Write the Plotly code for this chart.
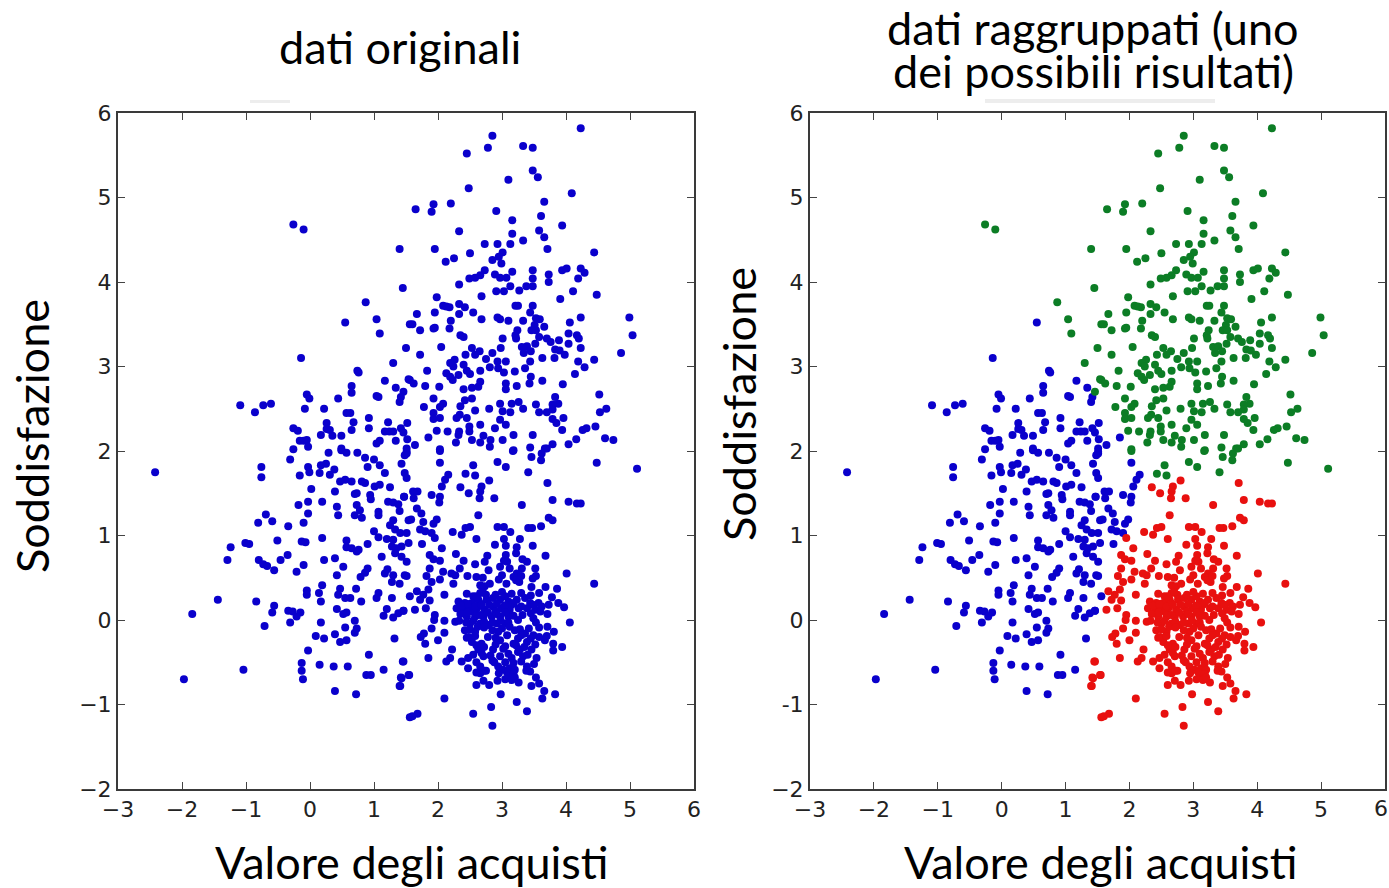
import plotly.graph_objects as go

W, H = 1389, 888

pts_upper_left = [(-0.26,4.68),(-0.10,4.62),(1.40,4.39),(1.45,3.93),(0.87,3.76),(0.55,3.52),(1.04,3.56),(1.09,3.39),(1.56,3.50),(1.50,3.22),
(-0.14,3.10),(1.30,3.04),(0.74,2.95),(0.76,2.93),(1.17,2.83),(1.54,2.85),(0.65,2.77),(0.65,2.69),(1.34,2.75),(1.46,2.70),(1.42,2.64),(1.40,2.58),
(-0.05,2.67),(-0.01,2.62),(0.44,2.62),(1.04,2.65),(1.07,2.64),(-1.09,2.54),(-0.86,2.46),(-0.73,2.54),(-0.61,2.56),(-0.08,2.50),(0.22,2.50),
(0.57,2.45),(0.63,2.45),(0.92,2.39),(1.22,2.34),(1.52,2.33),(0.26,2.33),(0.68,2.34),(-0.26,2.27),(-0.19,2.24),(0.26,2.26),(0.31,2.25),(0.17,2.19),
(0.35,2.18),(0.49,2.18),(0.65,2.25),(0.92,2.27),(1.17,2.23),(1.30,2.23),(1.24,2.23),(1.42,2.27),(1.46,2.22),(1.52,2.14),(1.34,2.12),(1.04,2.09),(1.09,2.12),
(-0.16,2.12),(-0.05,2.13),(-0.10,2.12),(-0.03,2.05),(-0.26,2.02),(0.49,2.03)]

pts_upper_right = [(4.23,5.82),(2.85,5.73),(2.78,5.59),(2.45,5.52),(3.33,5.61),(3.48,5.59),(3.48,5.32),(3.56,5.24),(3.10,5.21),(2.48,5.11),(4.09,5.05),(3.66,4.95),
(2.20,4.93),(1.93,4.92),(1.90,4.83),(1.65,4.86),(2.91,4.84),(3.61,4.78),(3.16,4.73),(3.94,4.67),(2.33,4.60),(3.58,4.61),(3.66,4.53),(3.16,4.57),(3.33,4.49),
(2.73,4.45),(2.93,4.45),(3.13,4.45),(3.71,4.39),(1.95,4.39),(4.44,4.35),(2.50,4.34),(3.01,4.35),(2.95,4.30),(2.99,4.22),(2.85,4.26),(2.12,4.24),(2.25,4.28),
(2.73,4.14),(2.66,4.08),(2.58,4.05),(2.49,4.04),(2.89,4.09),(2.97,4.05),(3.07,4.05),(3.16,4.12),(3.48,4.14),(3.48,4.04),(3.48,3.95),(3.38,3.95),(3.73,4.09),(3.73,4.00),
(3.94,4.14),(4.01,4.16),(4.23,4.16),(4.29,4.11),(4.19,4.04),(3.13,3.95),(3.27,3.90),(2.33,3.97),(2.91,3.89),(3.03,3.89),(4.11,3.89),(4.48,3.85),(2.68,3.83),(3.91,3.80),
(1.98,3.82),(2.08,3.72),(2.18,3.70),(2.13,3.71),(2.33,3.74),(2.42,3.70),(3.21,3.72),(3.25,3.72),(3.48,3.72),(3.44,3.64),(2.55,3.64),(1.95,3.64),(1.67,3.62),(2.33,3.62),
(2.68,3.56),(2.93,3.58),(2.97,3.56),(3.10,3.54),(3.33,3.54),(3.53,3.57),(3.59,3.56),(3.51,3.49),(3.46,3.43),(3.53,3.43),(3.66,3.47),(4.23,3.58),(4.06,3.52),(4.99,3.58),
(5.04,3.37),(2.20,3.54),(2.18,3.45),(1.60,3.50),(1.72,3.43),(1.93,3.45),(1.95,3.46),(3.24,3.43),(3.21,3.37),(3.22,3.33),(2.35,3.37),(2.40,3.35),(3.01,3.33),(4.04,3.39),
(4.17,3.37),(4.20,3.33),(3.58,3.35),(3.70,3.33),(3.76,3.29),(3.89,3.31),(4.04,3.27),(3.52,3.27),(3.31,3.23),(3.39,3.24),(3.34,3.16),(3.45,3.18),(3.83,3.20),(3.82,3.10),
(3.90,3.19),(3.98,3.14),(4.23,3.22),(4.86,3.16),(2.05,3.23),(1.72,3.14),(2.53,3.22),(2.65,3.18),(2.58,3.14),(2.43,3.14),(2.98,3.22),(2.85,3.16),(2.75,3.09),(3.63,3.10),
(4.44,3.08),(2.93,3.06),(3.06,3.06),(2.81,2.99),(2.94,2.98),(3.03,2.93),(3.44,3.06),(3.36,2.98),(4.19,3.06),(4.29,2.99),(2.26,3.08),(2.19,3.04),(2.24,3.00),(2.40,3.02),
(2.45,2.95),(2.50,2.91),(2.66,2.95),(3.20,2.94),(1.83,2.95),(4.14,2.91),(2.13,2.92),(2.19,2.88),(2.32,2.90),(2.23,2.84),(3.45,2.88),(3.43,2.80),(3.63,2.83),(2.66,2.82),
(2.63,2.76),(3.06,2.80),(3.06,2.73),(3.23,2.77),(3.95,2.79),(1.56,2.84),(1.62,2.80),(1.80,2.77),(2.02,2.76),(2.40,2.73),(2.53,2.75),(4.52,2.67),(1.93,2.62),(2.42,2.60),
(2.53,2.62),(3.83,2.64),(3.88,2.56),(3.79,2.55),(3.15,2.56),(3.26,2.58),(2.97,2.56),(2.08,2.56),(2.03,2.52),(1.78,2.52),(2.35,2.53),(3.53,2.55),(2.58,2.48),(2.80,2.50),
(3.01,2.47),(3.13,2.46),(3.33,2.50),(4.63,2.50),(4.53,2.46),(3.58,2.46),(3.70,2.46),(3.79,2.49),(1.93,2.45),(1.93,2.38),(2.03,2.39),(2.34,2.43),(2.29,2.39),(2.45,2.39),
(2.97,2.37),(3.06,2.31),(2.89,2.27),(2.66,2.31),(2.49,2.29),(2.49,2.23),(3.79,2.38),(3.85,2.33),(3.96,2.39),(3.94,2.25),(4.46,2.29),(4.32,2.27),(4.26,2.25),(1.98,2.24),
(2.15,2.23),(2.33,2.23),(2.32,2.19),(3.18,2.19),(3.48,2.19),(1.85,2.16),(2.53,2.13),(2.71,2.18),(2.66,2.10),(2.82,2.13),(2.81,2.05),(3.01,2.13),(2.28,2.10),(4.61,2.15),
(4.74,2.13),(4.16,2.14),(4.04,2.08),(3.79,2.08),(3.67,2.03),(3.44,2.04),(3.18,2.01),(2.03,2.02),(1.64,2.07),(1.51,2.03)]

pts_lower_left = [(-2.42,1.75),(-0.76,1.81),(-0.76,1.69),(-0.31,1.90),(0.29,1.98),(0.49,2.01),(0.57,1.98),(0.74,1.98),(0.86,1.92),(1.00,1.90),(1.09,1.83),(0.90,1.81),
(1.17,1.74),(-0.03,1.81),(-0.01,1.75),(-0.16,1.71),(0.15,1.74),(0.17,1.83),(0.25,1.85),(0.38,1.78),(0.31,1.72),(1.43,1.85),(1.48,1.74),(1.51,1.68),(1.51,1.97),(0.47,1.64),
(0.55,1.66),(0.65,1.64),(0.81,1.64),(0.86,1.62),(1.01,1.58),(1.09,1.60),(1.25,1.57),(0.02,1.55),(0.39,1.52),(0.70,1.49),(0.73,1.50),(0.94,1.48),(0.95,1.43),(1.47,1.46),
(1.22,1.40),(1.30,1.39),(1.38,1.37),(-0.03,1.40),(-0.18,1.36),(0.19,1.40),(0.42,1.34),(0.73,1.36),(0.78,1.30),(0.70,1.24),(0.81,1.21),(1.07,1.28),(1.07,1.24),(1.40,1.29),
(-0.03,1.26),(0.44,1.24),(-0.69,1.25),(-0.81,1.15),(-0.59,1.17),(-0.34,1.11),(-0.10,1.15),(1.30,1.18),(1.25,1.12),(1.54,1.18),(1.00,1.05),(1.07,0.98),(1.33,1.07),(1.41,1.03),
(1.51,1.03),(-0.51,0.94),(0.19,0.97),(-1.01,0.91),(-0.95,0.90),(-1.24,0.86),(-0.13,0.93),(-0.07,0.92),(0.57,0.94),(0.90,0.90),(1.20,0.96),(1.30,0.95),(1.28,0.87),(1.35,0.85),
(1.43,0.87),(1.54,0.91),(0.57,0.86),(0.65,0.85),(0.73,0.81),(0.76,0.83),(1.33,0.79),(1.43,0.75),(1.51,0.69),(-1.29,0.71),(-0.35,0.77),(-0.46,0.71),(-0.80,0.71),(-0.73,0.66),
(-0.67,0.64),(-0.56,0.59),(0.22,0.71),(0.39,0.73),(0.52,0.63),(1.12,0.75),(-0.10,0.65),(-0.21,0.57),(0.90,0.61),(0.86,0.56),(0.79,0.51),(0.42,0.53),(1.21,0.60),(1.17,0.55),
(1.30,0.53),(1.28,0.45),(1.40,0.43),(1.48,0.53),(0.19,0.41),(0.72,0.37),(0.47,0.37),(0.44,0.30),(0.55,0.26),(0.63,0.26),(-0.05,0.35),(-0.05,0.30),(0.14,0.32),(0.17,0.22),
(1.07,0.32),(1.04,0.26),(1.28,0.26),(0.80,0.22),(-1.44,0.24),(-0.84,0.22),(-0.56,0.17),(-0.59,0.09),(-0.34,0.11),(-0.27,0.10),(-0.15,0.09),(-0.21,0.04),(-0.31,-0.03),(0.42,0.13),
(0.57,0.09),(0.52,0.07),(1.20,0.13),(1.15,0.05),(1.46,0.11),(1.30,0.03),(1.38,0.08),(-1.84,0.07),(-0.71,-0.07),(0.17,-0.03),(0.70,-0.01),(0.73,-0.10),(0.70,-0.15),(0.55,-0.09),
(0.09,-0.19),(0.22,-0.22),(0.39,-0.17),(0.47,-0.26),(0.57,-0.24),(1.32,-0.22),(-0.03,-0.36),(0.92,-0.41),(-0.13,-0.51),(-0.13,-0.60),(-0.11,-0.70),(0.15,-0.53),(0.37,-0.55),
(0.59,-0.55),(1.45,-0.49),(1.15,-0.59),(0.88,-0.65),(0.95,-0.65),(1.54,-0.65),(1.42,-0.68),(1.40,-0.78),(-1.04,-0.59),(-1.97,-0.70),(0.39,-0.84),(0.72,-0.88),(1.56,-1.15)]

pts_lower_right = [(1.51,1.99),(1.48,1.95),(2.03,2.00),(2.03,1.86),(3.17,2.00),(2.93,1.87),(3.06,1.81),(3.46,1.93),(3.62,1.97),(3.61,1.89),(3.70,2.03),(4.48,1.86),(5.11,1.79),
(2.55,1.83),(2.43,1.73),(2.58,1.71),(3.41,1.75),(2.16,1.72),(2.11,1.66),(2.06,1.58),(2.80,1.65),(3.71,1.62),(2.35,1.57),(2.68,1.58),(2.66,1.52),(2.65,1.44),(2.48,1.50),(2.88,1.44),
(3.79,1.42),(4.04,1.40),(4.17,1.38),(4.23,1.38),(3.31,1.36),(1.90,1.48),(2.03,1.46),(2.02,1.39),(1.61,1.52),(1.68,1.52),(1.62,1.44),(1.47,1.46),(1.67,1.32),(1.74,1.26),(2.63,1.24),
(3.73,1.21),(3.79,1.18),(1.58,1.19),(1.98,1.19),(1.93,1.14),(1.77,1.16),(3.61,1.11),(2.50,1.10),(2.43,1.09),(2.93,1.10),(3.03,1.10),(3.41,1.09),(3.47,1.09),(2.23,1.04),(2.37,1.01),
(3.13,1.04),(1.72,1.07),(1.80,1.05),(1.90,1.03),(1.95,0.97),(2.60,0.96),(3.28,0.96),(3.03,0.96),(2.89,0.89),(3.06,0.88),(3.48,0.88),(3.23,0.86),(3.22,0.79),(2.06,0.85),(1.75,0.90),
(3.68,0.76),(2.28,0.78),(1.87,0.77),(1.93,0.72),(2.03,0.70),(3.06,0.77),(3.08,0.69),(2.77,0.76),(2.73,0.69),(2.40,0.70),(2.58,0.66),(2.79,0.59),(3.39,0.69),(3.31,0.61),(2.97,0.63),
(3.00,0.53),(2.34,0.61),(2.27,0.53),(3.12,0.61),(3.52,0.61),(3.53,0.52),(2.08,0.57),(2.21,0.55),(1.87,0.61),(1.82,0.52),(1.90,0.45),(2.03,0.48),(4.01,0.55),(4.44,0.43),(2.46,0.52),
(2.60,0.51),(2.66,0.41),(2.73,0.40),(2.81,0.43),(3.23,0.55),(3.27,0.45),(3.07,0.43),(1.51,0.52),(2.24,0.43),(3.46,0.39),(3.68,0.39),(3.86,0.37),(3.58,0.32),(2.10,0.30),(1.67,0.34),
(1.77,0.30),(1.85,0.36),(1.72,0.24),(1.87,0.23),(1.56,0.28),(2.66,0.32),(2.55,0.28),(2.76,0.24),(3.78,0.27),(2.32,0.22),(2.42,0.20),(2.53,0.20),(2.63,0.24),(2.86,0.26),(2.97,0.24),
(3.10,0.22),(3.23,0.24),(3.36,0.26),(3.44,0.20),(3.88,0.20),(3.97,0.15),(3.57,0.20),(3.73,0.18),(2.29,0.14),(2.40,0.12),(2.50,0.14),(2.61,0.14),(2.73,0.12),(2.86,0.16),(2.99,0.14),
(3.12,0.12),(3.26,0.14),(3.39,0.14),(3.52,0.12),(1.46,0.11),(1.64,0.12),(1.81,0.14),(1.95,0.06),(1.94,0.00),(3.71,0.07),(2.10,-0.01),(2.27,-0.02),(2.45,0.04),(2.58,0.04),(2.71,0.04),
(2.84,0.04),(2.97,0.04),(3.10,0.04),(3.49,0.02),(4.06,-0.03),(2.50,-0.04),(2.66,-0.04),(2.79,-0.06),(2.92,-0.04),(3.05,-0.04),(3.53,-0.03),(2.42,-0.12),(3.20,-0.12),(2.58,-0.14),
(2.94,-0.14),(3.36,-0.16),(3.49,-0.18),(3.71,-0.08),(3.81,-0.14),(1.90,-0.10),(1.78,-0.16),(2.10,-0.15),(1.73,-0.20),(1.80,-0.28),(2.00,-0.24),(2.53,-0.26),(2.97,-0.24),(3.18,-0.28),
(3.39,-0.26),(3.67,-0.24),(3.80,-0.28),(3.94,-0.32),(3.80,-0.36),(2.63,-0.35),(2.86,-0.35),(3.02,-0.34),(3.28,-0.35),(3.46,-0.35),(2.22,-0.35),(2.71,-0.43),(2.97,-0.43),(3.15,-0.45),
(3.33,-0.43),(3.54,-0.45),(2.19,-0.45),(1.85,-0.45),(2.13,-0.49),(2.37,-0.49),(2.47,-0.45),(1.46,-0.49),(2.47,-0.57),(2.66,-0.55),(2.66,-0.63),(2.94,-0.55),(3.02,-0.59),(3.12,-0.57),
(3.20,-0.59),(3.39,-0.55),(3.44,-0.61),(3.10,-0.67),(1.55,-0.65),(1.43,-0.69),(1.41,-0.78),(3.53,-0.68),(3.58,-0.75),(3.46,-0.78),(2.60,-0.77),(2.71,-0.72),(2.80,-0.77),(2.93,-0.72),
(3.26,-0.74),(3.66,-0.84),(3.63,-0.93),(3.83,-0.88),(2.98,-0.88),(2.10,-0.93),(3.23,-0.97),(2.83,-1.03),(3.39,-1.08),(2.55,-1.11),(1.68,-1.11),(1.60,-1.14),(2.85,-1.25)]

pts_core = [(2.55,0.10),(2.65,0.20),(2.75,0.30),(2.90,0.10),(3.05,0.28),(3.18,0.05),(3.30,0.32),(2.48,-0.20),(2.62,-0.08),(2.78,-0.20),(3.08,-0.18),(2.68,-0.28),(3.25,-0.22),(3.42,-0.10),
(2.88,-0.50),(2.75,-0.60),(3.05,-0.50),(2.60,0.06),(2.80,0.18),(3.15,0.18),
(2.45,0.31),(2.60,0.28),(2.70,0.33),(2.90,0.30),(3.00,0.33),(3.15,0.31),(3.45,0.29),
(2.37,0.17),(2.47,0.19),(2.58,0.16),(2.68,0.18),(2.92,0.19),(3.04,0.17),(3.18,0.20),(3.30,0.16),(3.48,0.18),(3.62,0.16),
(2.35,0.07),(2.46,0.09),(2.66,0.06),(2.78,0.09),(2.92,0.07),(3.05,0.09),(3.32,0.06),(3.45,0.08),(3.60,0.10),
(2.33,-0.01),(2.44,-0.03),(2.55,-0.01),(2.72,-0.02),(2.85,-0.03),(2.98,-0.01),(3.10,-0.03),(3.25,0.00),
(2.50,-0.11),(2.72,-0.09),(2.85,-0.12),(3.00,-0.10),(3.12,-0.08),(3.28,-0.11),(3.58,-0.09),
(2.45,-0.21),(2.58,-0.19),(2.90,-0.21),(3.30,-0.18),(3.45,-0.22),(3.58,-0.20),(3.70,-0.19),
(2.60,-0.30),(2.72,-0.32),(2.90,-0.29),(3.05,-0.31),(3.22,-0.30),(3.35,-0.32),(3.52,-0.29),
(2.55,-0.41),(2.68,-0.39),(2.82,-0.42),(3.10,-0.40),(3.25,-0.38),(3.40,-0.41),
(2.60,-0.50),(2.85,-0.48),(3.18,-0.51),(3.30,-0.49),(3.50,-0.52),
(2.60,-0.62),(2.72,-0.60),(2.95,-0.63),(3.08,-0.62),(3.18,-0.64),(3.38,-0.60),(3.05,-0.70),(3.15,-0.71),(3.20,-0.68),
(2.70,0.50),(2.95,0.48),(3.18,0.51),(3.22,0.47),(3.30,0.52),(3.48,0.49),(3.03,0.70),(3.32,0.72)]

points = pts_upper_left + pts_upper_right + pts_lower_left + pts_lower_right + pts_core
x_all = [p[0] for p in points]
y_all = [p[1] for p in points]


def cluster(x, y):
    """Which side of the two boundaries seen in the right-hand panel a point falls on."""
    if y >= 1.67:
        green = 2.4 * (x - 1.8) + 1.9 * (y - 2.25) > 0 or y > 4.4
        return "green" if green else "blue"
    return "red" if x > 1.27 + 0.42 * (y + 0.6) else "blue"


labels = [cluster(x, y) for x, y in points]
cluster_colors = {"blue": "#0a00cc", "green": "#0c7d25", "red": "#e8100f"}

x_ticks = [-3, -2, -1, 0, 1, 2, 3, 4, 5, 6]
x_tick_text = ["\u22123", "\u22122", "\u22121", "0", "1", "2", "3", "4", "5", "6"]
y_ticks = [-2, -1, 0, 1, 2, 3, 4, 5, 6]
y_text_left = ["\u22122", "\u22121", "0", "1", "2", "3", "4", "5", "6"]
y_text_right = ["\u22122", "-1", "0", "1", "2", "3", "4", "5", "6"]

title_left = "dati originali"
title_right_1 = "dati raggruppati (uno"
title_right_2 = "dei possibili risultati)"
x_label = "Valore degli acquisti"
y_label = "Soddisfazione"

fig = go.Figure()
fig.add_trace(go.Scatter(x=x_all, y=y_all, mode="markers", xaxis="x", yaxis="y",
                         marker=dict(size=8, color=cluster_colors["blue"], line=dict(width=0)), showlegend=False))
for name, col in cluster_colors.items():
    xs = [p[0] for p, l in zip(points, labels) if l == name]
    ys = [p[1] for p, l in zip(points, labels) if l == name]
    fig.add_trace(go.Scatter(x=xs, y=ys, mode="markers", xaxis="x2", yaxis="y2",
                             marker=dict(size=8, color=col, line=dict(width=0)), showlegend=False))


def xaxis(x0, x1, anchor):
    return dict(domain=[x0 / W, x1 / W], range=[-3, 6], anchor=anchor, tickmode="array", tickvals=x_ticks,
                ticktext=x_tick_text, ticks="inside", ticklen=7, tickwidth=1, tickcolor="#444", showline=True,
                linecolor="#3a3a3a", linewidth=2, mirror="ticks", showgrid=False, zeroline=False, automargin=False,
                tickfont=dict(family="DejaVu Sans", size=22, color="#222"))


def yaxis(text, anchor):
    return dict(domain=[1 - 789 / H, 1 - 113 / H], range=[-2, 6], anchor=anchor, tickmode="array", tickvals=y_ticks,
                ticktext=text, ticks="inside", ticklen=7, tickwidth=1, tickcolor="#444", showline=True,
                linecolor="#3a3a3a", linewidth=2, mirror="ticks", showgrid=False, zeroline=False, automargin=False,
                tickfont=dict(family="DejaVu Sans", size=22, color="#222"))


def note(text, px, py, size=45, angle=0, family="Lato", color="#000"):
    return dict(text=text, x=px / W, y=1 - py / H, xref="paper", yref="paper", showarrow=False, textangle=angle,
                xanchor="center", yanchor="middle", font=dict(family=family, size=size, color=color))


def smudge(x0, x1, y0, y1):
    return dict(type="rect", xref="paper", yref="paper", x0=x0 / W, x1=x1 / W, y0=1 - y1 / H, y1=1 - y0 / H,
                fillcolor="#ededed", line=dict(width=0), layer="below")


fig.update_layout(
    width=W, height=H, margin=dict(l=0, r=0, t=0, b=0, autoexpand=False), paper_bgcolor="white", plot_bgcolor="white",
    xaxis=xaxis(118, 694, "y"), yaxis=yaxis(y_text_left, "x"),
    xaxis2=xaxis(810, 1385, "y2"), yaxis2=yaxis(y_text_right, "x2"),
    shapes=[smudge(250, 290, 100, 103), smudge(985, 1215, 99, 103)],
    annotations=[
        note(title_left, 400, 47), note(title_right_1, 1093, 28), note(title_right_2, 1093, 71),
        note(x_label, 412, 862), note(x_label, 1101, 862),
        note(y_label, 32, 436, angle=-90), note(y_label, 739, 404, angle=-90),
        note(x_tick_text[-1], 1381, 808, size=22, family="DejaVu Sans", color="#222"),
    ],
)
fig.write_html("out.html", config={"displayModeBar": False},
               post_script="document.body.style.margin='0';"
                           "var s=document.createElement('style');"
                           "s.textContent='text{font-variant-ligatures:none}';document.head.appendChild(s);")
